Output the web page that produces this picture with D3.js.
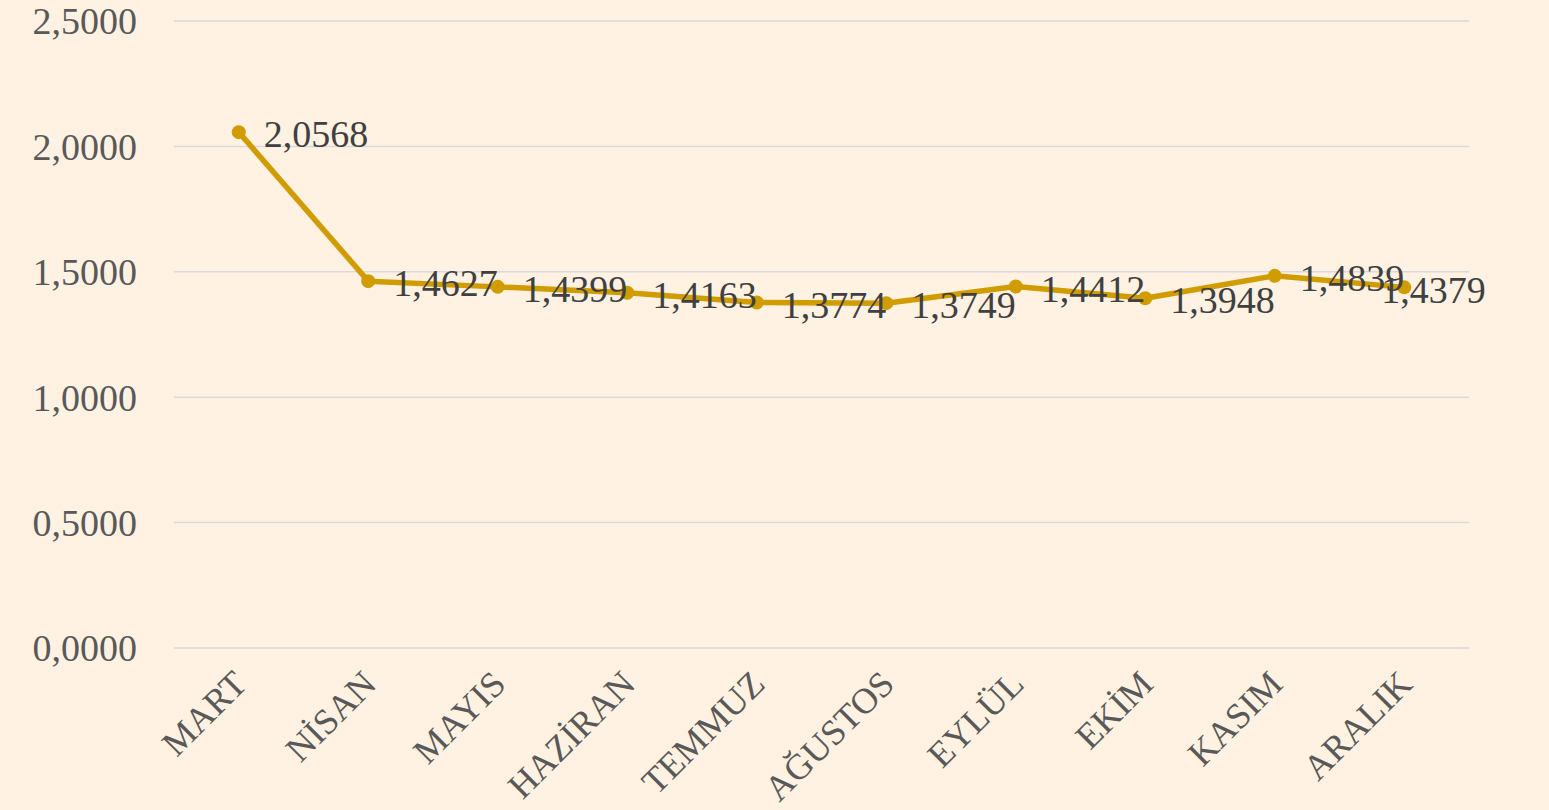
<!DOCTYPE html>
<html>
<head>
<meta charset="utf-8">
<script src="https://cdn.jsdelivr.net/npm/d3@7"></script>
<style>
  html, body { margin: 0; padding: 0; background: #FFF2E2; }
  svg { display: block; font-family: "Liberation Serif", "Times New Roman", serif; }
</style>
</head>
<body>
<svg id="chart"></svg>
<script>
// Data
const months = ["MART", "NİSAN", "MAYIS", "HAZİRAN", "TEMMUZ", "AĞUSTOS", "EYLÜL", "EKİM", "KASIM", "ARALIK"];
const values = [2.0568, 1.4627, 1.4399, 1.4163, 1.3774, 1.3749, 1.4412, 1.3948, 1.4839, 1.4379];
const yTicks = [0, 0.5, 1, 1.5, 2, 2.5];

// Layout
const W = 1549, H = 810;
const plot = { left: 174, right: 1469, top: 21, bottom: 648 };
const lineColor = "#D09C00";

const tr = d3.formatLocale({ decimal: ",", thousands: ".", grouping: [3], currency: ["", "₺"] });
const fmt = tr.format(".4f");

const svg = d3.select("#chart").attr("width", W).attr("height", H);

svg.append("rect").attr("width", W).attr("height", H).attr("fill", "#FFF2E2");

const x = d3.scaleBand().domain(months).range([plot.left, plot.right]);
const y = d3.scaleLinear().domain([0, 2.5]).range([plot.bottom, plot.top]);
const cx = d => x(d) + x.bandwidth() / 2;

// Grid lines
svg.append("g")
  .selectAll("line")
  .data(yTicks)
  .join("line")
  .attr("x1", plot.left)
  .attr("x2", plot.right)
  .attr("y1", d => y(d))
  .attr("y2", d => y(d))
  .attr("stroke", "#D9D9D9")
  .attr("stroke-width", 1.5);

// Y axis labels
svg.append("g")
  .selectAll("text")
  .data(yTicks)
  .join("text")
  .attr("x", 137)
  .attr("y", d => y(d))
  .attr("dy", "0.35em")
  .attr("text-anchor", "end")
  .attr("fill", "#595959")
  .attr("font-size", 38)
  .text(d => fmt(d));

// X axis labels, rotated
svg.append("g")
  .selectAll("text")
  .data(months)
  .join("text")
  .attr("transform", d => `translate(${cx(d) + 10},${686}) rotate(-45)`)
  .attr("text-anchor", "end")
  .attr("fill", "#595959")
  .attr("font-size", 36)
  .text(d => d);

// Line
const line = d3.line()
  .x((d, i) => cx(months[i]))
  .y(d => y(d));

svg.append("path")
  .datum(values)
  .attr("d", line)
  .attr("fill", "none")
  .attr("stroke", lineColor)
  .attr("stroke-width", 5.5)
  .attr("stroke-linejoin", "round")
  .attr("stroke-linecap", "round");

// Markers
svg.append("g")
  .selectAll("circle")
  .data(values)
  .join("circle")
  .attr("cx", (d, i) => cx(months[i]))
  .attr("cy", d => y(d))
  .attr("r", 7)
  .attr("fill", lineColor);

// Data labels (right of the point; last one pulled back over the marker)
svg.append("g")
  .selectAll("text")
  .data(values)
  .join("text")
  .attr("x", (d, i) => cx(months[i]) + (i === values.length - 1 ? -23 : 25))
  .attr("y", d => y(d) + 2)
  .attr("dy", "0.35em")
  .attr("fill", "#404040")
  .attr("font-size", 38)
  .text(d => fmt(d));
</script>
</body>
</html>
